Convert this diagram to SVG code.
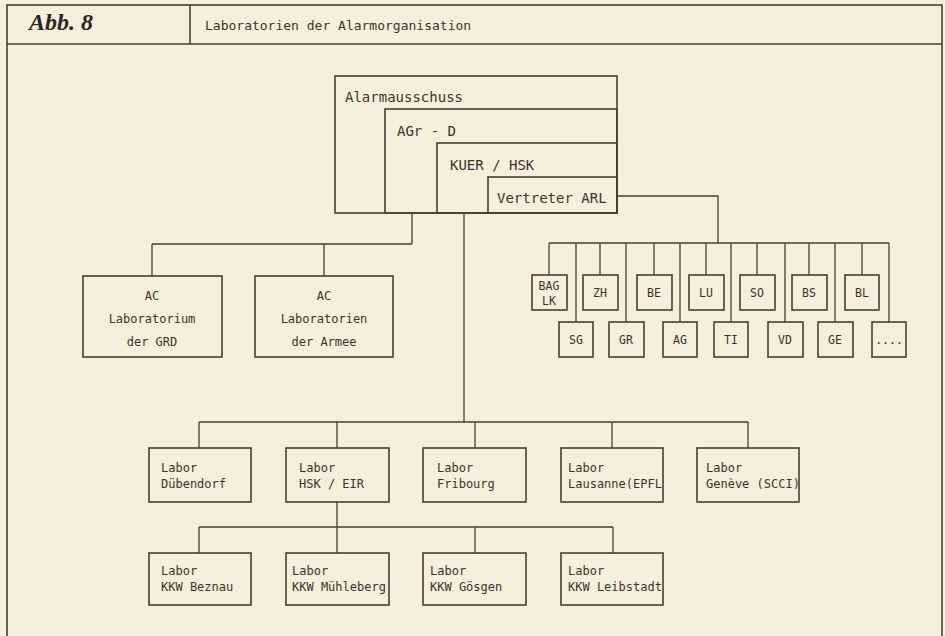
<svg xmlns="http://www.w3.org/2000/svg" width="945" height="636" viewBox="0 0 945 636">
<style>
.bx{fill:none;stroke:#4a3e33;stroke-width:1.6}
.ln{fill:none;stroke:#4a3e33;stroke-width:1.3}
.t{font-family:"DejaVu Sans Mono","Liberation Mono",monospace;fill:#3d332b}
.t14{font-size:14px}
.t13{font-size:13px}
.t12{font-size:12px}
.t11{font-size:11.5px}
.m{text-anchor:middle}
</style>
<rect x="0" y="0" width="945" height="636" fill="#f5efdc"/>
<g id="frame">
<rect class="bx" x="7" y="5" width="935" height="640"/>
<line class="bx" x1="7" y1="44" x2="942" y2="44"/>
<line class="bx" x1="190" y1="5" x2="190" y2="44"/>
<text x="29" y="30" font-family="Liberation Serif,serif" font-weight="bold" font-style="italic" font-size="24" fill="#2e2620">Abb. 8</text>
<text class="t t13" x="205" y="30">Laboratorien der Alarmorganisation</text>
</g>
<g id="connectors">
<path class="ln" d="M617 196H718V243"/>
<path class="ln" d="M549 243H889"/>
<path class="ln" d="M549 243V275M600 243V275M654 243V275M706 243V275M757 243V275M809 243V275M862 243V275"/>
<path class="ln" d="M576 243V322M626 243V322M680 243V322M731 243V322M785 243V322M835 243V322M889 243V322"/>
<path class="ln" d="M412 213V244M152 244H412M152 244V276M324 244V276"/>
<path class="ln" d="M464 213V422M199 422H748M199 422V448M337 422V448M475 422V448M612 422V448M748 422V448"/>
<path class="ln" d="M337 502V553M199 527H613M199 527V553M475 527V553M613 527V553"/>
</g>
<g id="alarmausschuss">
<rect class="bx" x="335" y="76" width="282" height="137"/>
<text class="t t14" x="345" y="102">Alarmausschuss</text>
</g>
<g id="agr-d">
<rect class="bx" x="385" y="109" width="232" height="104"/>
<text class="t t14" x="397" y="136">AGr - D</text>
</g>
<g id="kuer-hsk">
<rect class="bx" x="437" y="143" width="180" height="70"/>
<text class="t t14" x="450" y="170">KUER / HSK</text>
</g>
<g id="vertreter-arl">
<rect class="bx" x="488" y="177" width="129" height="36"/>
<text class="t t14" x="497" y="203">Vertreter ARL</text>
</g>
<g id="ac-grd">
<rect class="bx" x="83" y="276" width="139" height="81"/>
<text class="t t12 m" x="152" y="300">AC</text>
<text class="t t12 m" x="152" y="323">Laboratorium</text>
<text class="t t12 m" x="152" y="346">der GRD</text>
</g>
<g id="ac-armee">
<rect class="bx" x="255" y="276" width="138" height="81"/>
<text class="t t12 m" x="324" y="300">AC</text>
<text class="t t12 m" x="324" y="323">Laboratorien</text>
<text class="t t12 m" x="324" y="346">der Armee</text>
</g>
<g id="bag-lk"><rect class="bx" x="532" y="275" width="35" height="35"/><text class="t t11 m" x="549" y="290">BAG</text><text class="t t11 m" x="549" y="305">LK</text></g>
<g id="zh"><rect class="bx" x="583" y="275" width="35" height="35"/><text class="t t11 m" x="600" y="297">ZH</text></g>
<g id="be"><rect class="bx" x="637" y="275" width="35" height="35"/><text class="t t11 m" x="654" y="297">BE</text></g>
<g id="lu"><rect class="bx" x="689" y="275" width="35" height="35"/><text class="t t11 m" x="706" y="297">LU</text></g>
<g id="so"><rect class="bx" x="740" y="275" width="35" height="35"/><text class="t t11 m" x="757" y="297">SO</text></g>
<g id="bs"><rect class="bx" x="792" y="275" width="35" height="35"/><text class="t t11 m" x="809" y="297">BS</text></g>
<g id="bl"><rect class="bx" x="845" y="275" width="34" height="35"/><text class="t t11 m" x="862" y="297">BL</text></g>
<g id="sg"><rect class="bx" x="559" y="322" width="34" height="35"/><text class="t t11 m" x="576" y="344">SG</text></g>
<g id="gr"><rect class="bx" x="609" y="322" width="35" height="35"/><text class="t t11 m" x="626" y="344">GR</text></g>
<g id="ag"><rect class="bx" x="663" y="322" width="34" height="35"/><text class="t t11 m" x="680" y="344">AG</text></g>
<g id="ti"><rect class="bx" x="714" y="322" width="34" height="35"/><text class="t t11 m" x="731" y="344">TI</text></g>
<g id="vd"><rect class="bx" x="768" y="322" width="35" height="35"/><text class="t t11 m" x="785" y="344">VD</text></g>
<g id="ge"><rect class="bx" x="818" y="322" width="35" height="35"/><text class="t t11 m" x="835" y="344">GE</text></g>
<g id="more"><rect class="bx" x="872" y="322" width="34" height="35"/><text class="t t11 m" x="889" y="344">....</text></g>
<g id="labor-duebendorf"><rect class="bx" x="149" y="448" width="102" height="54"/><text class="t t12" x="161" y="472">Labor</text><text class="t t12" x="161" y="488">Dübendorf</text></g>
<g id="labor-hsk-eir"><rect class="bx" x="286" y="448" width="103" height="54"/><text class="t t12" x="299" y="472">Labor</text><text class="t t12" x="299" y="488">HSK / EIR</text></g>
<g id="labor-fribourg"><rect class="bx" x="423" y="448" width="103" height="54"/><text class="t t12" x="437" y="472">Labor</text><text class="t t12" x="437" y="488">Fribourg</text></g>
<g id="labor-lausanne"><rect class="bx" x="561" y="448" width="102" height="54"/><text class="t t12" x="568" y="472">Labor</text><text class="t t12" x="568" y="488">Lausanne(EPFL</text></g>
<g id="labor-geneve"><rect class="bx" x="697" y="448" width="102" height="54"/><text class="t t12" x="706" y="472">Labor</text><text class="t t12" x="706" y="488">Genève (SCCI)</text></g>
<g id="labor-beznau"><rect class="bx" x="149" y="553" width="102" height="52"/><text class="t t12" x="161" y="575">Labor</text><text class="t t12" x="161" y="591">KKW Beznau</text></g>
<g id="labor-muehleberg"><rect class="bx" x="286" y="553" width="103" height="52"/><text class="t t12" x="292" y="575">Labor</text><text class="t t12" x="292" y="591">KKW Mühleberg</text></g>
<g id="labor-goesgen"><rect class="bx" x="423" y="553" width="103" height="52"/><text class="t t12" x="430" y="575">Labor</text><text class="t t12" x="430" y="591">KKW Gösgen</text></g>
<g id="labor-leibstadt"><rect class="bx" x="561" y="553" width="102" height="52"/><text class="t t12" x="568" y="575">Labor</text><text class="t t12" x="568" y="591">KKW Leibstadt</text></g>
</svg>
